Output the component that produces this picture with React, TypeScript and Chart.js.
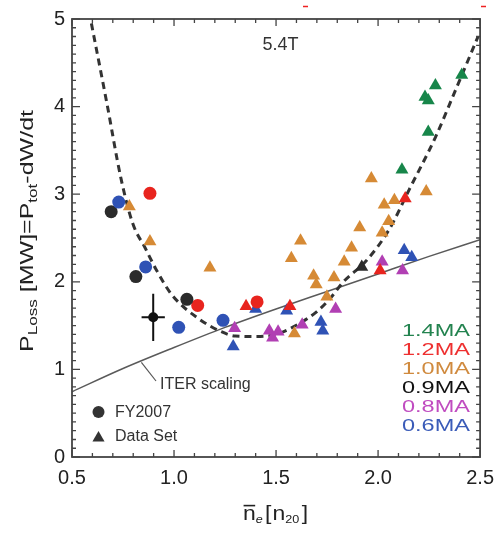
import React, { useEffect, useRef } from "react";
import { Chart, registerables } from "chart.js";
Chart.register(...registerables);

const FONT = "'Liberation Sans', Arial, Helvetica, sans-serif";

// ---- FY2007 shots (circles) ----
const fyX06 = [0.729, 0.861, 1.023, 1.24];
const fyY06 = [2.91, 2.17, 1.48, 1.56];
const fyX09 = [0.692, 0.813, 1.063];
const fyY09 = [2.8, 2.06, 1.8];
const fyX12 = [0.882, 1.116, 1.407];
const fyY12 = [3.01, 1.73, 1.77];

// point with error bars
const ebX = [0.898];
const ebY = [1.595];
const ebErrX = [0.057];
const ebErrY = [0.27];

// ---- Data set (triangles) ----
const dsX14 = [2.117, 2.23, 2.246, 2.246, 2.281, 2.41];
const dsY14 = [3.28, 4.11, 4.07, 3.71, 4.24, 4.36];
const dsX12 = [1.353, 1.568, 2.01, 2.133];
const dsY12 = [1.72, 1.72, 2.13, 2.95];
const dsX10 = [0.781, 0.882, 1.176, 1.575, 1.62, 1.59, 1.684, 1.697, 1.749, 1.784, 1.834, 1.87, 1.91, 1.967, 2.02, 2.03, 2.052, 2.08, 2.236];
const dsY10 = [2.86, 2.46, 2.16, 2.27, 2.47, 1.41, 2.07, 1.97, 1.83, 2.05, 2.23, 2.39, 2.62, 3.18, 2.56, 2.88, 2.69, 2.93, 3.03];
const dsX09 = [1.92];
const dsY09 = [2.17];
const dsX08 = [1.297, 1.467, 1.483, 1.51, 1.628, 1.792, 2.02, 2.12];
const dsY08 = [1.47, 1.44, 1.36, 1.43, 1.51, 1.69, 2.23, 2.13];
const dsX06 = [1.29, 1.4, 1.552, 1.72, 1.729, 2.128, 2.165];
const dsY06 = [1.26, 1.69, 1.67, 1.54, 1.44, 2.36, 2.28];

// ---- dashed fit curve ----
const fitX = [0.595, 0.67, 0.74, 0.797, 0.86, 0.91, 0.99, 1.12, 1.232, 1.3, 1.4, 1.5, 1.604, 1.7, 1.765, 1.83, 1.942, 2.055, 2.152, 2.281, 2.378, 2.49];
const fitY = [4.95, 4.05, 3.18, 2.67, 2.38, 2.15, 1.85, 1.58, 1.43, 1.38, 1.375, 1.4, 1.51, 1.66, 1.81, 2.0, 2.24, 2.6, 3.05, 3.65, 4.18, 4.8];

// ---- ITER scaling line ----
const iterX = [0.5, 0.75, 1.0, 1.25, 1.5, 1.75, 2.0, 2.25, 2.5];
const iterY = [0.745, 1.01, 1.25, 1.48, 1.69, 1.89, 2.09, 2.29, 2.48];

// ---- axis ticks ----
const xTickValues = [0.5, 1.0, 1.5, 2.0, 2.5];
const yTickValues = [0, 1, 2, 3, 4, 5];

// ---- legend ----
const currentLabels = ["1.4MA", "1.2MA", "1.0MA", "0.9MA", "0.8MA", "0.6MA"];
const currentColors = ["#23834f", "#ee3030", "#d08a3e", "#111111", "#c04cc0", "#3a5bb8"];
const typeLabels = ["FY2007", "Data Set"];

const C = {
  green: "#17864a",
  red: "#e8241e",
  orange: "#d68a35",
  black: "#2b2b2b",
  purple: "#b13fb3",
  blue: "#2f52b5",
};

const pts = (xs: number[], ys: number[]) => xs.map((x, i) => ({ x, y: ys[i] }));

function circles(xs: number[], ys: number[], color: string) {
  return {
    data: pts(xs, ys),
    pointStyle: "circle",
    pointRadius: 6.5,
    backgroundColor: color,
    borderColor: color,
    borderWidth: 0,
    showLine: false,
  };
}
function tris(xs: number[], ys: number[], color: string) {
  return {
    data: pts(xs, ys),
    pointStyle: "triangle",
    pointRadius: 7.5,
    backgroundColor: color,
    borderColor: color,
    borderWidth: 0,
    showLine: false,
  };
}

type Seg = { t: string; size: number; dy: number; italic?: boolean; bar?: boolean; gap?: number };

function drawRich(ctx: CanvasRenderingContext2D, segs: Seg[], cx: number, cy: number, targetW: number, rotate: boolean, color: string) {
  ctx.save();
  let total = 0;
  const widths: number[] = [];
  for (const s of segs) {
    ctx.font = `${s.italic ? "italic " : ""}${s.size}px ${FONT}`;
    const w = ctx.measureText(s.t).width + (s.gap || 0);
    widths.push(w);
    total += w;
  }
  const sx = targetW / total;
  ctx.translate(cx, cy);
  if (rotate) ctx.rotate(-Math.PI / 2);
  ctx.scale(sx, 1);
  ctx.fillStyle = color;
  ctx.strokeStyle = color;
  ctx.textBaseline = "alphabetic";
  ctx.textAlign = "left";
  let x = -total / 2;
  segs.forEach((s, i) => {
    ctx.font = `${s.italic ? "italic " : ""}${s.size}px ${FONT}`;
    ctx.fillText(s.t, x, s.dy);
    if (s.bar) {
      const w = ctx.measureText(s.t).width;
      ctx.lineWidth = 1.6;
      ctx.beginPath();
      ctx.moveTo(x + 0.5, s.dy - s.size * 0.72);
      ctx.lineTo(x + w - 0.5, s.dy - s.size * 0.72);
      ctx.stroke();
    }
    x += widths[i];
  });
  ctx.restore();
}

const decorPlugin = {
  id: "decor",
  afterDatasetsDraw(chart: any) {
    const ctx: CanvasRenderingContext2D = chart.ctx;
    const xs = chart.scales.x;
    const ys = chart.scales.y;
    // error-bar point
    ctx.save();
    ctx.strokeStyle = "#111";
    ctx.fillStyle = "#111";
    ctx.lineWidth = 2;
    ebX.forEach((x, i) => {
      const px = xs.getPixelForValue(x);
      const py = ys.getPixelForValue(ebY[i]);
      const x0 = xs.getPixelForValue(x - ebErrX[i]);
      const x1 = xs.getPixelForValue(x + ebErrX[i]);
      const y0 = ys.getPixelForValue(ebY[i] - ebErrY[i]);
      const y1 = ys.getPixelForValue(ebY[i] + ebErrY[i]);
      ctx.beginPath();
      ctx.moveTo(x0, py);
      ctx.lineTo(x1, py);
      ctx.moveTo(px, y0);
      ctx.lineTo(px, y1);
      ctx.stroke();
      ctx.beginPath();
      ctx.arc(px, py, 5, 0, Math.PI * 2);
      ctx.fill();
    });
    ctx.restore();
  },
  afterDraw(chart: any) {
    const ctx: CanvasRenderingContext2D = chart.ctx;
    const xs = chart.scales.x;
    const ys = chart.scales.y;
    const { left, right, top, bottom } = chart.chartArea;
    ctx.save();
    // frame
    ctx.strokeStyle = "#444";
    ctx.lineWidth = 1.8;
    ctx.strokeRect(left, top, right - left, bottom - top);
    // ticks
    ctx.lineWidth = 1.3;
    ctx.beginPath();
    for (let i = 0; i <= 20; i++) {
      const v = 0.5 + i * 0.1;
      const px = xs.getPixelForValue(v);
      const len = i % 5 === 0 ? 7 : 4;
      ctx.moveTo(px, bottom);
      ctx.lineTo(px, bottom - len);
      ctx.moveTo(px, top);
      ctx.lineTo(px, top + len);
    }
    for (let i = 0; i <= 50; i++) {
      const v = i * 0.1;
      const py = ys.getPixelForValue(v);
      const len = i % 10 === 0 ? 8 : 4;
      ctx.moveTo(left, py);
      ctx.lineTo(left + len, py);
      ctx.moveTo(right, py);
      ctx.lineTo(right - len, py);
    }
    ctx.stroke();

    // small red marks at top
    ctx.strokeStyle = "#ee2222";
    ctx.lineWidth = 1.6;
    ctx.beginPath();
    ctx.moveTo(303, 6.5);
    ctx.lineTo(308, 6.5);
    ctx.moveTo(481, 6.5);
    ctx.lineTo(486, 6.5);
    ctx.stroke();

    // 5.4T label
    ctx.fillStyle = "#333";
    ctx.font = `18px ${FONT}`;
    ctx.textAlign = "center";
    ctx.textBaseline = "middle";
    ctx.fillText("5.4T", 280.5, 45);

    // ITER scaling label + leader
    ctx.strokeStyle = "#555";
    ctx.lineWidth = 1.2;
    ctx.beginPath();
    const lx = xs.getPixelForValue(0.84);
    const ly = ys.getPixelForValue(1.08);
    ctx.moveTo(lx, ly);
    ctx.lineTo(156, 381);
    ctx.stroke();
    ctx.fillStyle = "#333";
    ctx.font = `16px ${FONT}`;
    ctx.textAlign = "left";
    ctx.fillText("ITER scaling", 160, 385);

    // type legend
    ctx.fillStyle = "#333";
    ctx.beginPath();
    ctx.arc(98.5, 412, 6, 0, Math.PI * 2);
    ctx.fill();
    ctx.beginPath();
    const tr = 7;
    const tcx = 98.5, tcy = 438;
    ctx.moveTo(tcx, tcy - tr);
    ctx.lineTo(tcx + tr * Math.sin((2 * Math.PI) / 3), tcy + tr * 0.5);
    ctx.lineTo(tcx - tr * Math.sin((2 * Math.PI) / 3), tcy + tr * 0.5);
    ctx.closePath();
    ctx.fill();
    ctx.font = `16px ${FONT}`;
    ctx.fillText(typeLabels[0], 115, 413);
    ctx.fillText(typeLabels[1], 115, 437);

    // current legend (wide lettering)
    currentLabels.forEach((t, i) => {
      ctx.save();
      ctx.font = `17px ${FONT}`;
      const w = ctx.measureText(t).width;
      const sx = 68 / w;
      ctx.translate(402, 331 + i * 19.1);
      ctx.scale(sx, 1);
      ctx.fillStyle = currentColors[i];
      ctx.textAlign = "left";
      ctx.textBaseline = "middle";
      ctx.fillText(t, 0, 0);
      ctx.restore();
    });

    // axis titles
    drawRich(
      ctx,
      [
        { t: "P", size: 19, dy: 6.5 },
        { t: "Loss", size: 13, dy: 10.5 },
        { t: " [MW]=P", size: 19, dy: 6.5 },
        { t: "tot", size: 13, dy: 10.5 },
        { t: "-dW/dt", size: 19, dy: 6.5 },
      ],
      26.5,
      231,
      242,
      true,
      "#222"
    );
    drawRich(
      ctx,
      [
        { t: "n", size: 20, dy: 6, bar: true },
        { t: "e", size: 11, dy: 9, italic: true, gap: 2 },
        { t: "[", size: 20, dy: 6, gap: 1 },
        { t: "n", size: 20, dy: 6 },
        { t: "20", size: 11, dy: 9, gap: 2 },
        { t: "]", size: 20, dy: 6 },
      ],
      275.5,
      514,
      65,
      false,
      "#222"
    );
    ctx.restore();
  },
};

export default function App() {
  const ref = useRef<HTMLCanvasElement>(null);
  useEffect(() => {
    document.body.style.margin = "0";
    const canvas = ref.current!;
    const chart = new Chart(canvas, {
      type: "scatter",
      data: {
        datasets: [
          circles(fyX06, fyY06, C.blue),
          circles(fyX09, fyY09, C.black),
          circles(fyX12, fyY12, C.red),
          tris(dsX14, dsY14, C.green),
          tris(dsX12, dsY12, C.red),
          tris(dsX10, dsY10, C.orange),
          tris(dsX09, dsY09, C.black),
          tris(dsX08, dsY08, C.purple),
          tris(dsX06, dsY06, C.blue),
          {
            data: pts(fitX, fitY),
            showLine: true,
            pointRadius: 0,
            borderColor: "#333",
            borderWidth: 3,
            borderDash: [7, 5],
            cubicInterpolationMode: "monotone",
            fill: false,
          },
          {
            data: pts(iterX, iterY),
            showLine: true,
            pointRadius: 0,
            borderColor: "#5a5a5a",
            borderWidth: 1.5,
            cubicInterpolationMode: "monotone",
            fill: false,
          },
        ] as any,
      },
      options: {
        responsive: false,
        animation: false,
        layout: { padding: { top: 14, right: 19, left: 0, bottom: 0 } },
        plugins: { legend: { display: false }, tooltip: { enabled: false } },
        scales: {
          x: {
            type: "linear",
            min: 0.5,
            max: 2.5,
            afterBuildTicks: (s: any) => {
              s.ticks = xTickValues.map((v) => ({ value: v }));
            },
            ticks: {
              padding: 9,
              color: "#222",
              font: { family: FONT, size: 20 },
              maxRotation: 0,
              autoSkip: false,
              callback: (v: any) => Number(v).toFixed(1),
            },
            grid: { display: false, drawTicks: false },
            border: { display: false },
            afterFit: (s: any) => {
              s.height = 77;
            },
          },
          y: {
            type: "linear",
            min: 0,
            max: 5,
            afterBuildTicks: (s: any) => {
              s.ticks = yTickValues.map((v) => ({ value: v }));
            },
            ticks: {
              padding: 7,
              color: "#222",
              font: { family: FONT, size: 20 },
              autoSkip: false,
              callback: (v: any) => String(v),
            },
            grid: { display: false, drawTicks: false },
            border: { display: false },
            afterFit: (s: any) => {
              s.width = 72;
            },
          },
        },
      } as any,
      plugins: [decorPlugin],
    });
    return () => chart.destroy();
  }, []);
  return (
    <div style={{ width: 503, height: 534 }}>
      <canvas ref={ref} width={503} height={534} style={{ display: "block" }} />
    </div>
  );
}
